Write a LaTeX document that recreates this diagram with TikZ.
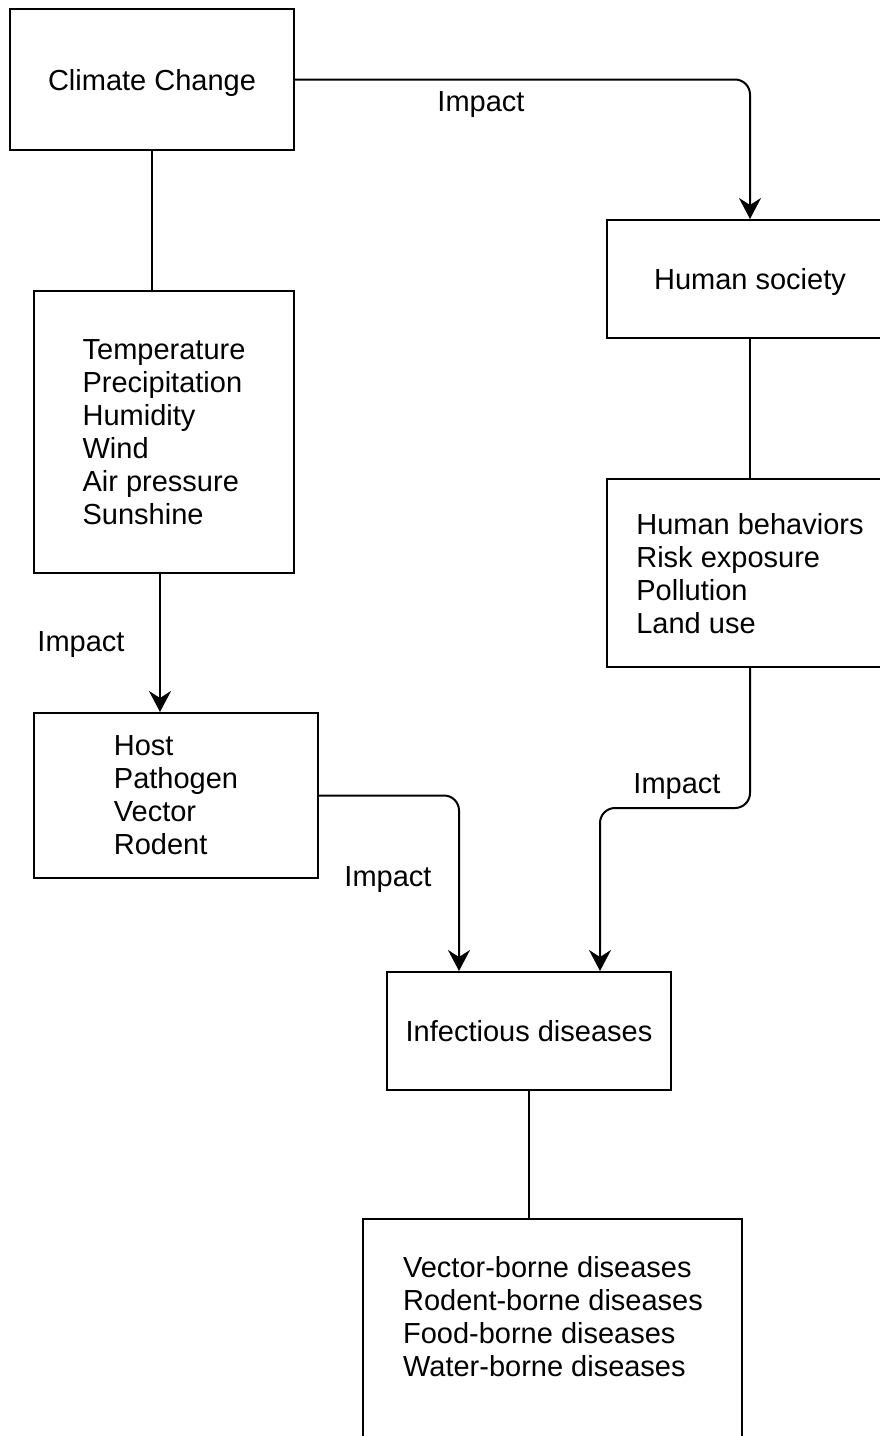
\documentclass[tikz,border=0pt]{standalone}
\usepackage{fontspec}
\setmainfont{Liberation Sans}
\usetikzlibrary{arrows.meta,calc}
\begin{document}
\begin{tikzpicture}[x=1pt,y=-1pt, line width=2pt,
 box/.style={draw, rectangle, inner sep=0pt, text depth=0pt, font=\fontsize{29}{33}\selectfont, align=left},
 lbl/.style={inner sep=0pt, text depth=0pt, font=\fontsize{29}{33}\selectfont, align=left},
 arr/.style={-{Stealth[length=21pt,width=22pt,inset=7pt]}, rounded corners=15pt}]
\useasboundingbox (0,0) rectangle (880,1436);
\clip (0,0) rectangle (880,1436);
\fill[white] (0,0) rectangle (880,1436);
% boxes
\node[box, minimum width=284pt, minimum height=141pt] (cc) at (152,79.5) {Climate Change};
\node[box, minimum width=260pt, minimum height=282pt] (vars) at (164,432) {Temperature\\Precipitation\\Humidity\\Wind\\Air pressure\\Sunshine};
\node[box, minimum width=284pt, minimum height=165pt] (host) at (176,795.5) {Host\\Pathogen\\Vector\\Rodent};
\node[box, minimum width=286pt, minimum height=118pt] (hs) at (750,279) {Human society};
\node[box, minimum width=286pt, minimum height=188pt] (hb) at (750,573) {Human behaviors\\Risk exposure\\Pollution\\Land use};
\node[box, minimum width=284pt, minimum height=118pt] (inf) at (529,1031) {Infectious diseases};
\node[box, minimum width=379pt, minimum height=260pt] (bot) at (552.5,1349) {};
\node[lbl] (bottxt) at (553,1316.5) {Vector-borne diseases\\Rodent-borne diseases\\Food-borne diseases\\Water-borne diseases};
% connectors
\draw (cc.south) -- (cc.south |- vars.north);
\draw[arr] (cc.east) -| (hs.north);
\draw (hs.south) -- (hb.north);
\draw[arr] (vars.south -| 160,0) -- (host.north -| 160,0);
\draw[arr] (host.east) -| ([xshift=-70pt]inf.north);
\draw[arr] (hb.south) -- (hb.south |- 0,808) -| ([xshift=71pt]inf.north);
\draw (inf.south) -- (inf.south |- bot.north);
% labels
\node[lbl] (l1) at (481,102) {Impact};
\node[lbl] (l2) at (81,642) {Impact};
\node[lbl] (l3) at (388,877) {Impact};
\node[lbl] (l4) at (677,784) {Impact};
\end{tikzpicture}
\end{document}
